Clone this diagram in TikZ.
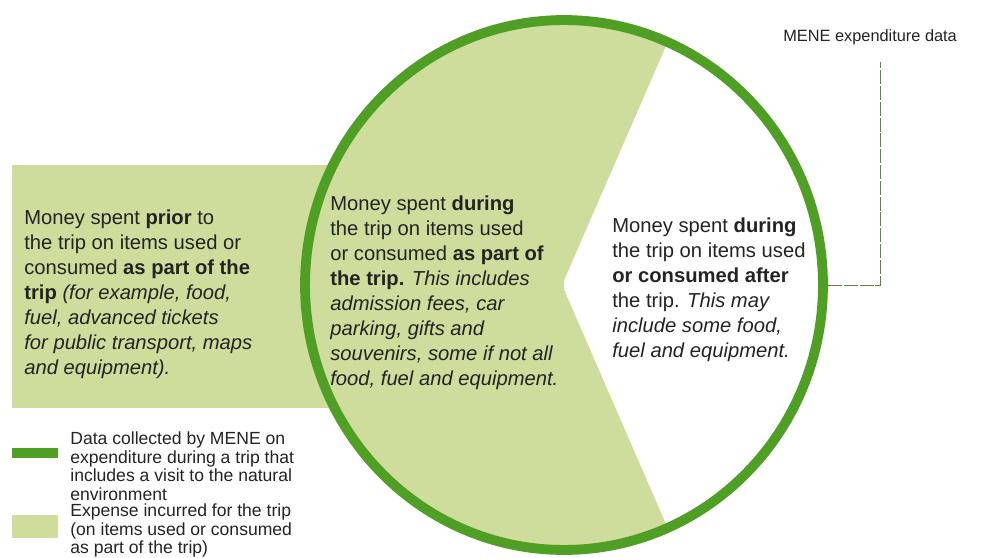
\documentclass[tikz,border=0pt]{standalone}
\usepackage{fontspec}
\setmainfont{Liberation Sans}
\usepackage{tikz}
\usetikzlibrary{shapes.geometric}
\definecolor{ringgreen}{RGB}{78,159,36}
\definecolor{fillgreen}{RGB}{206,221,156}
\definecolor{inkgrey}{RGB}{35,35,35}
\definecolor{bracketgreen}{RGB}{95,130,60}
\tikzset{
  ring/.style={draw=ringgreen, line width=5.6pt},
  body/.style={font=\fontsize{11.5}{14.17}\selectfont, text=inkgrey, align=left, anchor=north west, inner sep=0pt},
  keytext/.style={font=\fontsize{10}{10.77}\selectfont, text=inkgrey, align=left, anchor=north west, inner sep=0pt},
  bracket/.style={draw=bracketgreen, line width=0.5pt, dash pattern=on 8pt off 1pt}
}

\begin{document}
\begin{tikzpicture}[x=0.02cm, y=-0.02cm]
  \useasboundingbox (0,0) rectangle (999,557);
  \coordinate (ctr) at (564,285);
  \coordinate (tip) at (562,285);
  \fill[fillgreen] (12,165) rectangle (564,408);
  \begin{scope}
    \clip (0,0) -- (686,0) -- (tip) -- (686,570) -- (0,570) -- cycle;
    \fill[fillgreen] (ctr) ellipse [x radius=5.18cm, y radius=5.3cm];
  \end{scope}
  \node[ellipse, ring, minimum width=10.36cm, minimum height=10.6cm, inner sep=0pt] (disc) at (ctr) {};

  \node[body] (prior) at (24,210) {Money spent \textbf{prior} to\\the trip on items used or\\consumed \textbf{as part of the}\\\textbf{trip} \textit{(for example, food,}\\\textit{fuel, advanced tickets}\\\textit{for public transport, maps}\\\textit{and equipment).}};
  \node[body] (during) at (330,196) {Money spent \textbf{during}\\the trip on items used\\or consumed \textbf{as part of}\\\textbf{the trip.} \textit{This includes}\\\textit{admission fees, car}\\\textit{parking, gifts and}\\\textit{souvenirs, some if not all}\\\textit{food, fuel and equipment.}};
  \node[body] (after) at (612,218) {Money spent \textbf{during}\\the trip on items used\\\textbf{or consumed after}\\the trip. \textit{This may}\\\textit{include some food,}\\\textit{fuel and equipment.}};

  \node[font=\fontsize{9.3}{11}\selectfont, text=inkgrey, anchor=base west, inner sep=0pt] (mene) at (783,42) {MENE expenditure data};
  \coordinate (drop) at (880,62);
  \draw[bracket] (disc.east) -| (drop);

  \draw[ring] (12,453) -- (58,453);
  \fill[fillgreen] (12,515) rectangle (58,538);
  \node[keytext] (keyring) at (70,431) {Data collected by MENE on\\expenditure during a trip that\\includes a visit to the natural\\environment};
  \node[keytext] (keyfill) at (70,503) {Expense incurred for the trip\\(on items used or consumed\\as part of the trip)};
\end{tikzpicture}
\end{document}
